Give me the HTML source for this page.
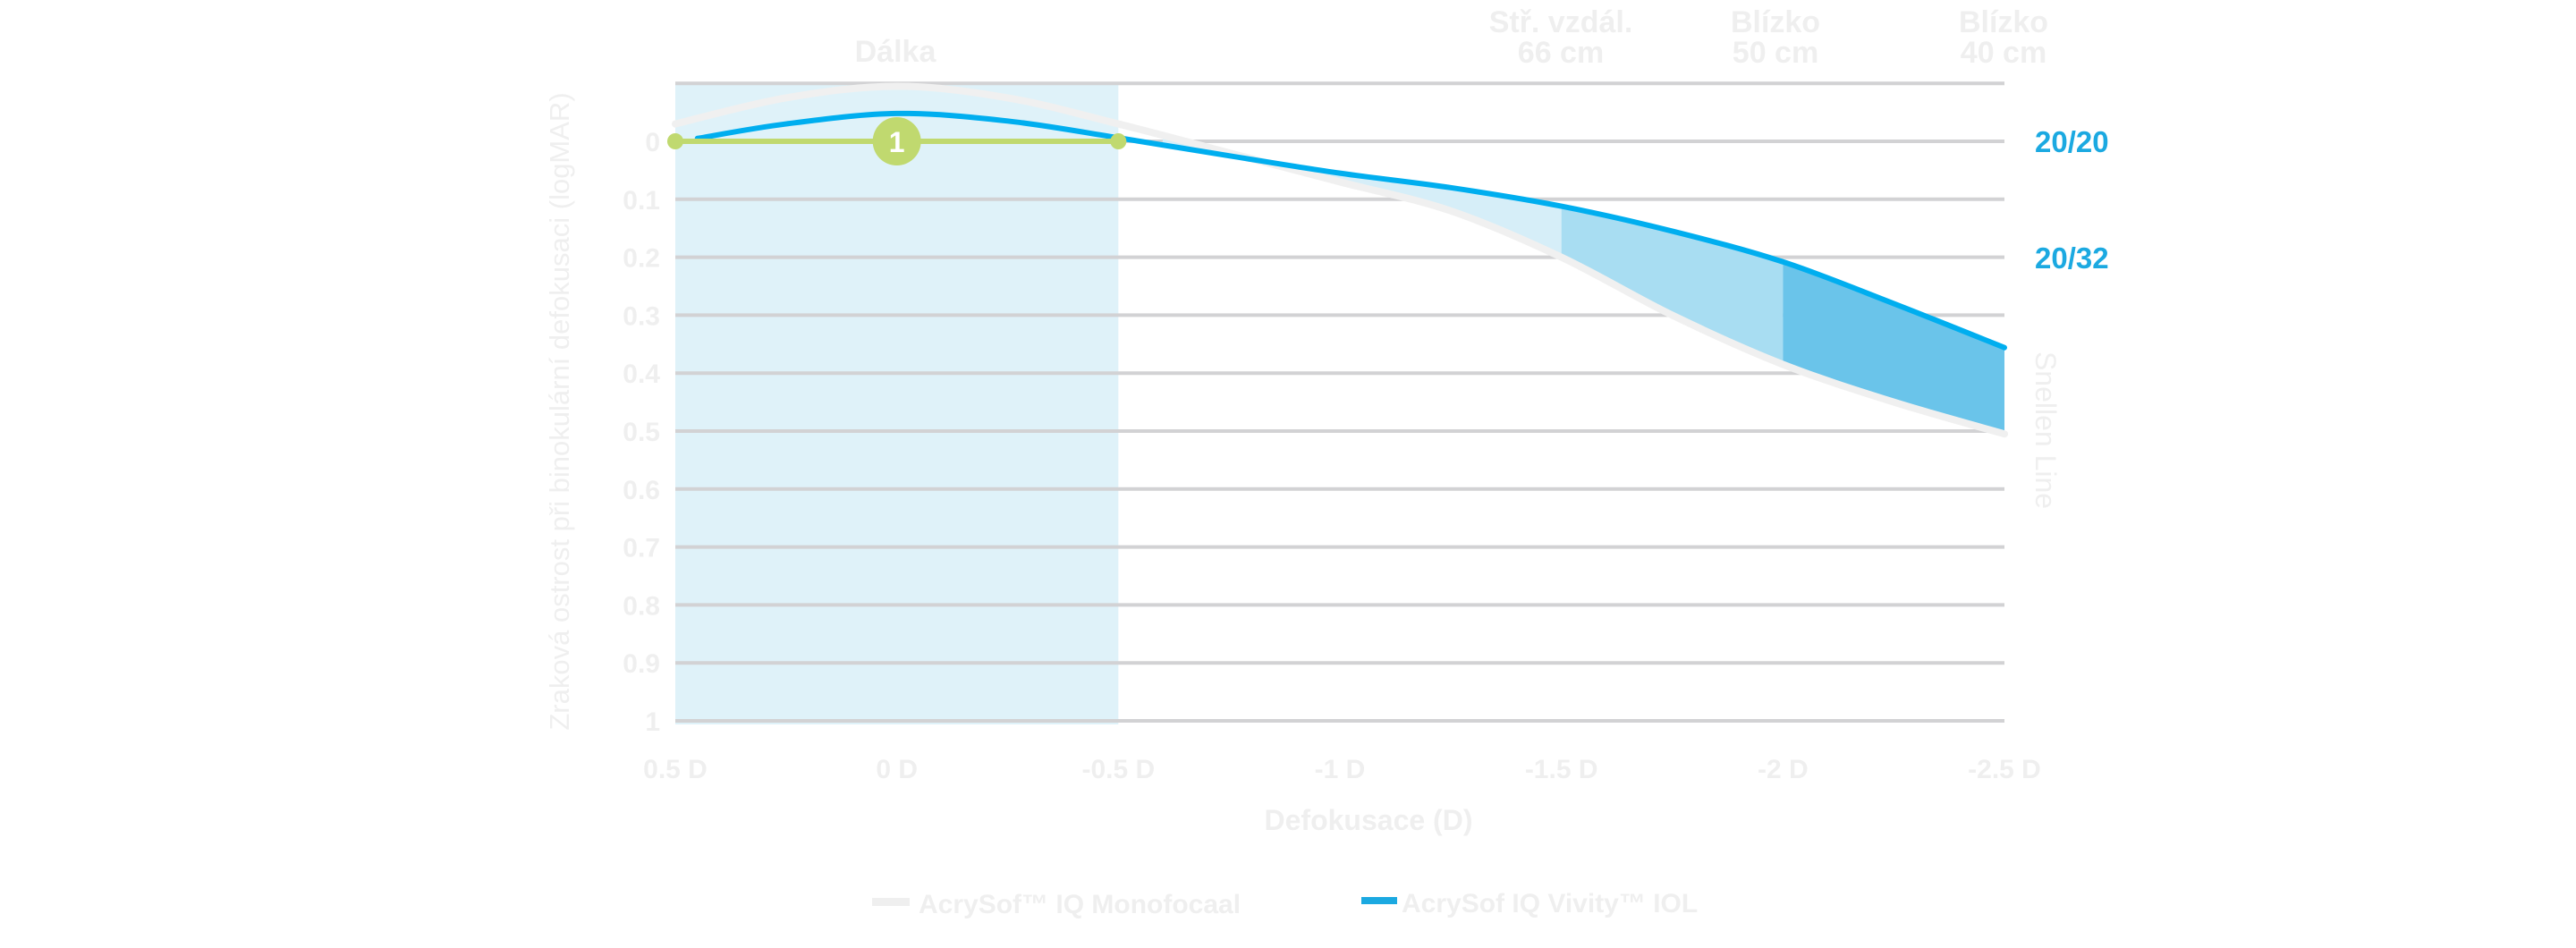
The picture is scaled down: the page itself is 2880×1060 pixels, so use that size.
<!DOCTYPE html>
<html><head><meta charset="utf-8"><style>
html,body{margin:0;padding:0;background:#fff;}
svg{display:block;font-family:"Liberation Sans",sans-serif;}
</style></head><body>
<svg id="chart" width="2880" height="1060" viewBox="0 0 2880 1060" xmlns="http://www.w3.org/2000/svg">
<g id="bg"></g><g id="grid"></g><g id="areas"></g><g id="lines"></g><g id="labels"></g>
</svg>
<script>
const yTicks=[0,0.1,0.2,0.3,0.4,0.5,0.6,0.7,0.8,0.9,1];
const yTickLabels=["0","0.1","0.2","0.3","0.4","0.5","0.6","0.7","0.8","0.9","1"];
const xTicks=[0.5,0,-0.5,-1,-1.5,-2,-2.5];
const xTickLabels=["0.5 D","0 D","-0.5 D","-1 D","-1.5 D","-2 D","-2.5 D"];
const monoX=[0.5,0.25,0,-0.25,-0.5,-0.75,-1,-1.25,-1.5,-1.75,-2,-2.25,-2.5];
const monoY=[-0.03,-0.075,-0.095,-0.075,-0.03,0.02,0.07,0.12,0.2,0.3,0.385,0.45,0.505];
const vivX=[0.45,0.25,0,-0.25,-0.5,-0.75,-1,-1.25,-1.5,-1.75,-2,-2.25,-2.5];
const vivY=[-0.005,-0.03,-0.048,-0.035,-0.006,0.025,0.055,0.08,0.112,0.155,0.208,0.28,0.356];
const bandEdges=[-0.6,-1.5,-2,-2.5];
const bandColors=["#d6eef8","#a8ddf2","#6ac4ea"];
const NS="http://www.w3.org/2000/svg";
const X=d=>755+(0.5-d)*(1486/3);
const Y=v=>158+v*648;
function mk(tag,attrs,parent,text){const e=document.createElementNS(NS,tag);for(const k in attrs)e.setAttribute(k,attrs[k]);if(text!==undefined)e.textContent=text;document.getElementById(parent).appendChild(e);return e;}
function interp(xs,ys,d){for(let i=0;i<xs.length-1;i++){const a=xs[i],b=xs[i+1];if((d<=a&&d>=b)){const t=(a-d)/(a-b);return ys[i]+t*(ys[i+1]-ys[i]);}}return ys[ys.length-1];}
function smooth(pts){let s=`M${pts[0][0]},${pts[0][1]}`;for(let i=0;i<pts.length-1;i++){const p0=pts[i-1]||pts[i],p1=pts[i],p2=pts[i+1],p3=pts[i+2]||p2;s+=` C${p1[0]+(p2[0]-p0[0])/6},${p1[1]+(p2[1]-p0[1])/6} ${p2[0]-(p3[0]-p1[0])/6},${p2[1]-(p3[1]-p1[1])/6} ${p2[0]},${p2[1]}`;}return s;}
// distance band
let e=mk('rect',{x:X(0.5),y:Y(-0.1),width:X(-0.5)-X(0.5),height:Y(1)-Y(-0.1)+4,fill:'#dff2f9'},'bg');


// grid
[-0.1,...yTicks].forEach((v,i)=>{const l=mk('line',{x1:X(0.5),x2:X(-2.5),y1:Y(v),y2:Y(v),stroke:'#d2d2d4','stroke-width':4},'grid');

});
yTicks.forEach((v,i)=>{const t=mk('text',{x:738,y:Y(v)+11,'text-anchor':'end','font-size':30,'font-weight':'bold',fill:'#efefef'},'labels',yTickLabels[i]);

});
xTicks.forEach((d,i)=>{const t=mk('text',{x:X(d),y:870,'text-anchor':'middle','font-size':30,'font-weight':'bold',fill:'#efefef'},'labels',xTickLabels[i]);

});
// shaded areas
for(let b=0;b<3;b++){const a=bandEdges[b],z=bandEdges[b+1];const top=[],bot=[];for(let k=0;k<=20;k++){const d=a+(z-a)*k/20;top.push([X(d),Y(interp(vivX,vivY,d))]);bot.push([X(d),Y(interp(monoX,monoY,d))]);}
const pts=top.concat(bot.reverse()).map(p=>p.join(',')).join(' ');
const p=mk('polygon',{points:pts,fill:bandColors[b]},'areas');

}
// lines
let m=mk('path',{d:smooth(monoX.map((d,i)=>[X(d),Y(monoY[i])])),fill:'none',stroke:'#f0f0f0','stroke-width':8,'stroke-linecap':'round'},'lines');


let v=mk('path',{d:smooth(vivX.map((d,i)=>[X(d),Y(vivY[i])])),fill:'none',stroke:'#00aeef','stroke-width':6,'stroke-linecap':'round'},'lines');


// green marker
let g=mk('line',{x1:X(0.5),x2:X(-0.5),y1:Y(0),y2:Y(0),stroke:'#c0d96f','stroke-width':6},'lines');


[0.5,-0.5].forEach(d=>{const c=mk('circle',{cx:X(d),cy:Y(0),r:9,fill:'#c0d96f'},'lines');

});
let c1=mk('circle',{cx:X(0),cy:Y(0),r:27,fill:'#c0d96f'},'lines');


mk('text',{x:X(0),y:Y(0)+12,'text-anchor':'middle','font-size':32,'font-weight':'bold',fill:'#fff'},'lines','1');
</script>
<svg style="position:absolute;left:0;top:0" width="2880" height="1060" xmlns="http://www.w3.org/2000/svg" font-family="Liberation Sans, sans-serif" font-weight="bold" fill="#efefef">
<text x="1001" y="69" text-anchor="middle" font-size="34">Dálka</text>
<g font-size="34" text-anchor="middle"><text x="1745" y="36">Stř. vzdál.</text><text x="1745" y="70">66 cm</text></g>
<g font-size="34" text-anchor="middle"><text x="1985" y="36">Blízko</text><text x="1985" y="70">50 cm</text></g>
<g font-size="34" text-anchor="middle"><text x="2240" y="36">Blízko</text><text x="2240" y="70">40 cm</text></g>
<text x="2275" y="170" font-size="33" fill="#1ba9e1">20/20</text>
<text x="2275" y="300" font-size="33" fill="#1ba9e1">20/32</text>
<text transform="translate(2276,481) rotate(90)" text-anchor="middle" font-size="32" font-weight="normal">Snellen Line</text>
<text transform="translate(636,460) rotate(-90)" text-anchor="middle" font-size="31" font-weight="normal">Zraková ostrost při binokulární defokusaci (logMAR)</text>
<text x="1530" y="928" text-anchor="middle" font-size="32">Defokusace (D)</text>
<rect x="975" y="1004" width="42" height="9" fill="#efefef"/>
<text x="1027" y="1021" font-size="30">AcrySof™ IQ Monofocaal</text>
<rect x="1522" y="1003" width="40" height="8" fill="#1ba9e1"/>
<text x="1567" y="1020" font-size="30">AcrySof IQ Vivity™ IOL</text>
</svg>
</body></html>
